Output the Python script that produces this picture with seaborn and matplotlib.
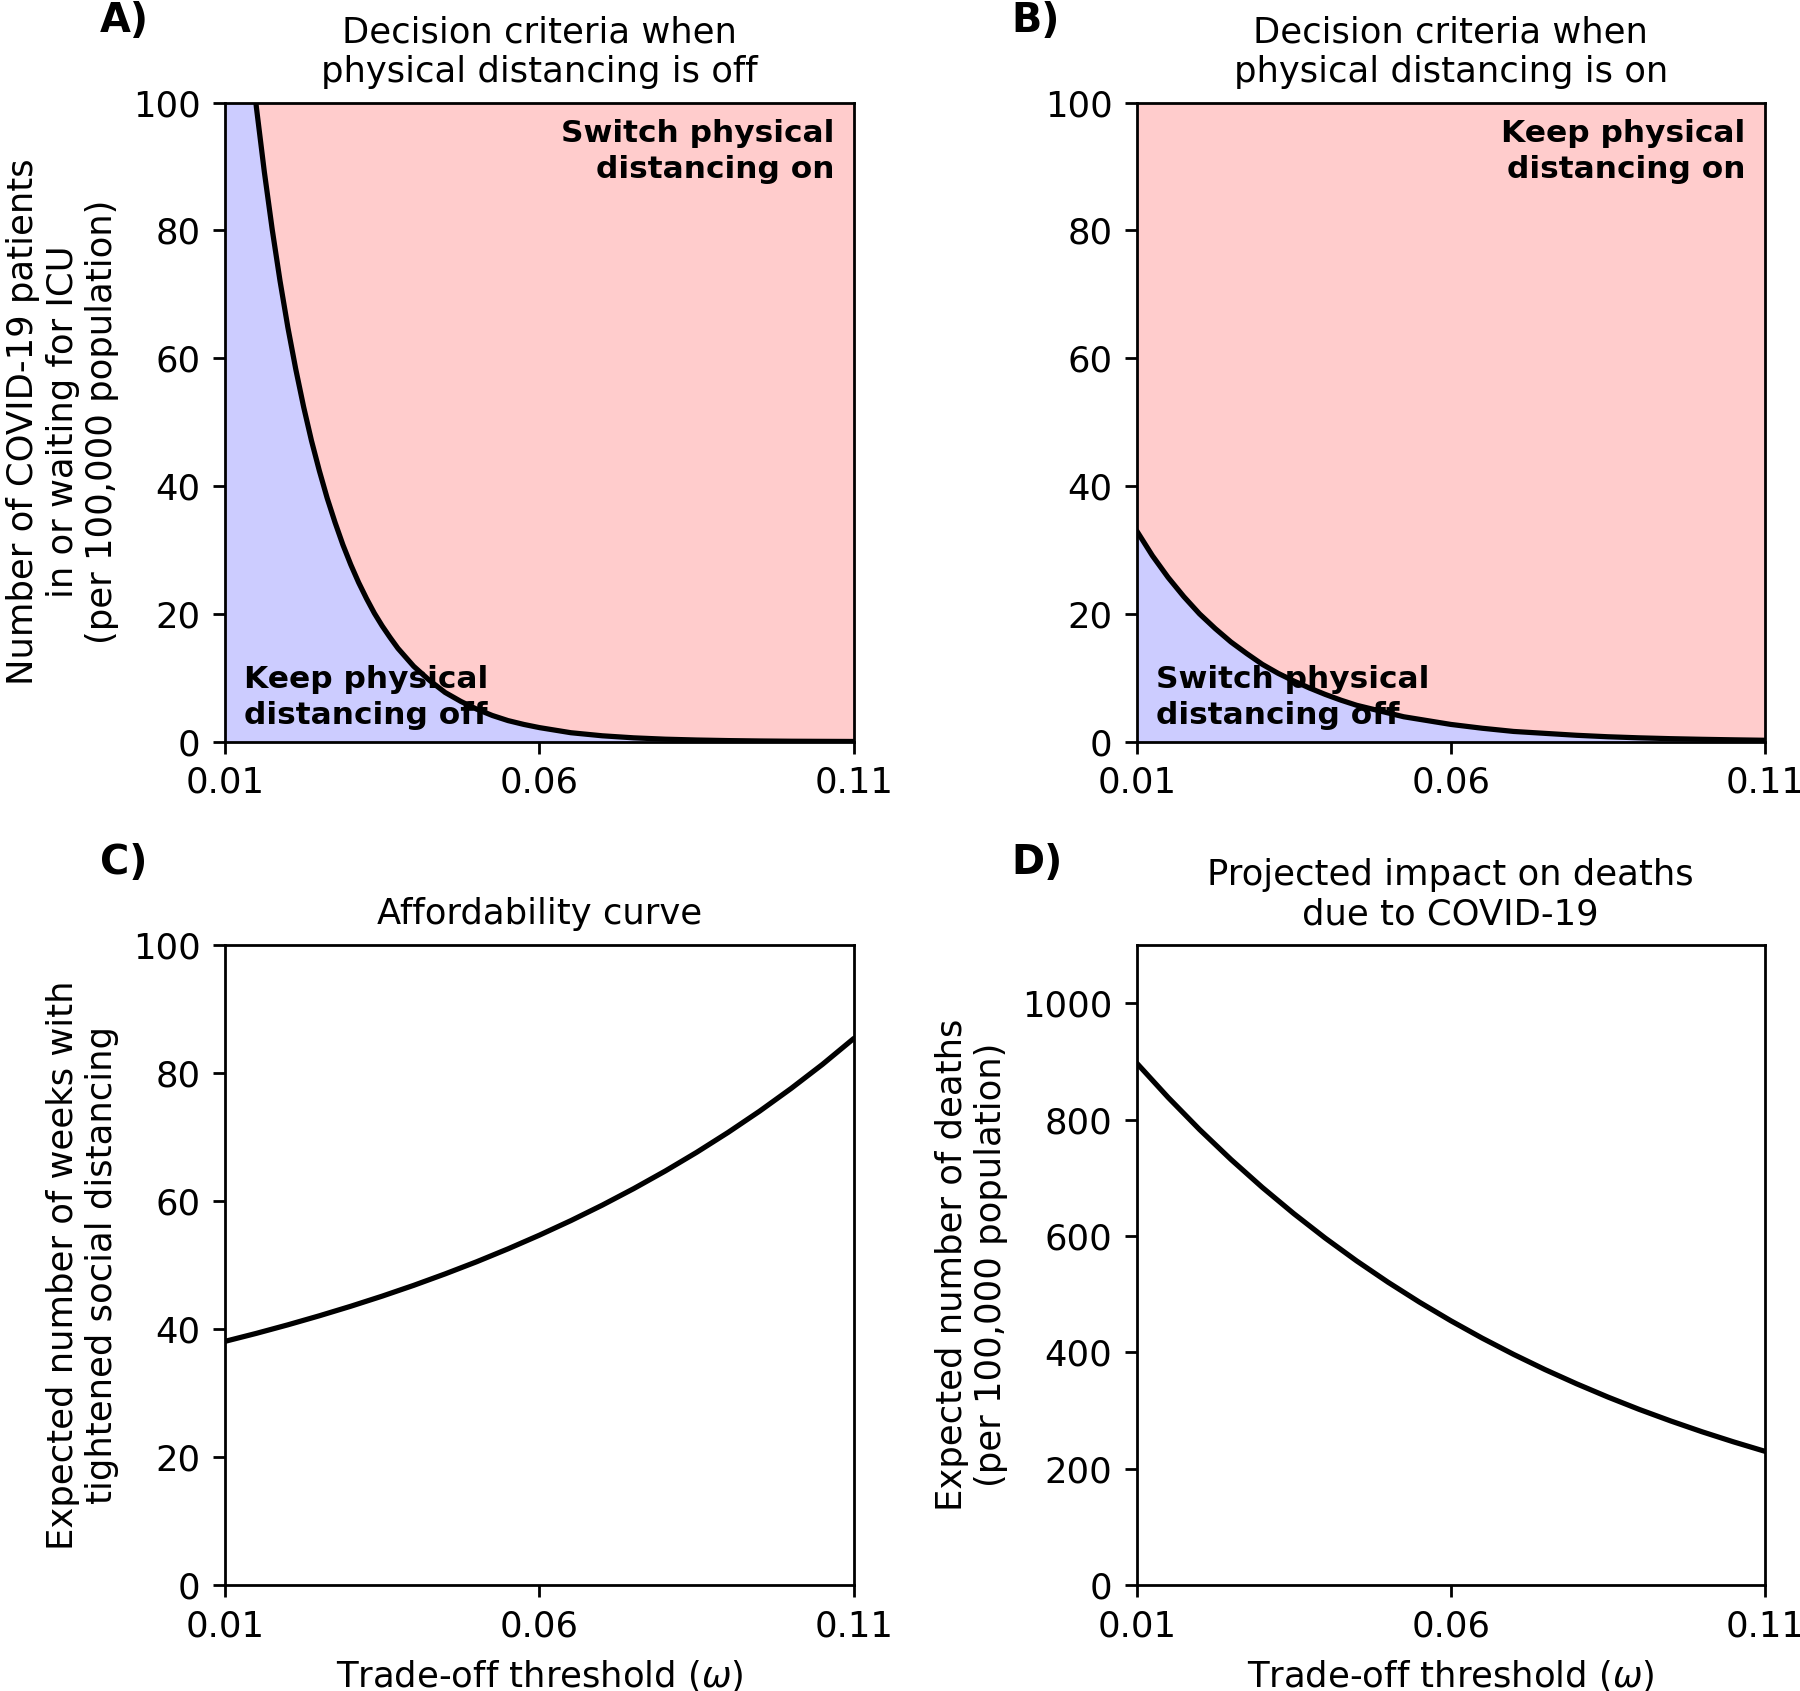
import matplotlib
matplotlib.use("Agg")
import matplotlib.pyplot as plt
import seaborn as sns

# panel A: threshold when physical distancing is off
omega_off = [0.010, 0.01125, 0.0125, 0.01375, 0.015, 0.01625, 0.0175, 0.01875,
             0.020, 0.02125, 0.0225, 0.02375, 0.025, 0.02625, 0.0275, 0.02875,
             0.030, 0.03125, 0.0325, 0.03375, 0.035, 0.03625, 0.0375, 0.03875,
             0.040, 0.0425, 0.045, 0.0475, 0.050, 0.0525, 0.055, 0.0575,
             0.060, 0.065, 0.070, 0.075, 0.080, 0.085, 0.090, 0.095,
             0.100, 0.105, 0.110]
threshold_off = [151.7, 136.4, 122.6, 110.3, 99.2, 89.2, 80.2, 72.1,
                 64.8, 58.3, 52.4, 47.1, 42.4, 38.1, 34.3, 30.8,
                 27.7, 24.9, 22.4, 20.1, 18.1, 16.3, 14.6, 13.2,
                 11.8, 9.6, 7.7, 6.3, 5.1, 4.1, 3.3, 2.7,
                 2.2, 1.4, 0.92, 0.60, 0.39, 0.26, 0.17, 0.11,
                 0.07, 0.05, 0.03]

# panel B: threshold when physical distancing is on
omega_on = [0.010, 0.0125, 0.015, 0.0175, 0.020, 0.0225, 0.025, 0.0275,
            0.030, 0.0325, 0.035, 0.0375, 0.040, 0.0425, 0.045, 0.0475,
            0.050, 0.0525, 0.055, 0.0575, 0.060, 0.065, 0.070, 0.075,
            0.080, 0.085, 0.090, 0.095, 0.100, 0.105, 0.110]
threshold_on = [33.0, 29.1, 25.7, 22.7, 20.0, 17.7, 15.6, 13.8,
                12.1, 10.7, 9.5, 8.4, 7.4, 6.5, 5.7, 5.1,
                4.5, 3.9, 3.5, 3.1, 2.7, 2.1, 1.6, 1.3,
                1.0, 0.77, 0.60, 0.47, 0.37, 0.29, 0.22]

# panels C and D
omega_outcome = [0.010, 0.015, 0.020, 0.025, 0.030, 0.035, 0.040, 0.045,
                 0.050, 0.055, 0.060, 0.065, 0.070, 0.075, 0.080, 0.085,
                 0.090, 0.095, 0.100, 0.105, 0.110]
weeks_distancing = [38.1, 39.35, 40.68, 42.09, 43.58, 45.16, 46.84, 48.63,
                    50.52, 52.54, 54.68, 56.95, 59.37, 61.95, 64.69, 67.61,
                    70.72, 74.03, 77.57, 81.34, 85.4]
deaths = [897, 838.0, 782.9, 731.5, 683.4, 638.5, 596.5, 557.3,
          520.7, 486.5, 454.5, 424.6, 396.7, 370.6, 346.3, 323.5,
          302.2, 282.4, 263.8, 246.5, 230.3]

x_ticks = [0.01, 0.06, 0.11]
x_tick_labels = ["0.01", "0.06", "0.11"]

BLUE = "#CCCCFF"
RED = "#FFCCCC"

sns.set_style("ticks", rc={
    "axes.edgecolor": "black",
    "axes.labelcolor": "black",
    "text.color": "black",
    "xtick.color": "black",
    "ytick.color": "black",
    "axes.linewidth": 0.8,
})
plt.rcParams["font.family"] = ["DejaVu Sans"]
plt.rcParams["font.size"] = 10.2
plt.rcParams["axes.titlesize"] = 10.2
plt.rcParams["axes.labelsize"] = 10.2
plt.rcParams["xtick.labelsize"] = 10.2
plt.rcParams["ytick.labelsize"] = 10.2

fig = plt.figure(figsize=(7.2, 6.764), dpi=250)

ax_a = fig.add_axes([0.125, 0.5614, 0.3494, 0.3779])
ax_b = fig.add_axes([0.6315, 0.5614, 0.3490, 0.3779])
ax_c = fig.add_axes([0.125, 0.06245, 0.3494, 0.3788])
ax_d = fig.add_axes([0.6315, 0.06245, 0.3490, 0.3788])


def decision_panel(ax, omega, thresholds, title, upper_text, lower_text):
    """Shade the two decision regions and draw the threshold curve."""
    ax.fill_between(omega, 0, thresholds, color=BLUE, lw=0)
    ax.fill_between(omega, thresholds, 100, color=RED, lw=0)
    sns.lineplot(x=omega, y=thresholds, ax=ax, color="black", lw=1.5)
    ax.set_ylim(0, 100)
    ax.set_yticks([0, 20, 40, 60, 80, 100])
    ax.set_title(title)
    ax.text(0.969, 0.974, upper_text, transform=ax.transAxes, ha="right",
            va="top", fontsize=9.0, fontweight="bold", linespacing=1.3)
    ax.text(0.031, 0.018, lower_text, transform=ax.transAxes, ha="left",
            va="bottom", fontsize=9.0, fontweight="bold", linespacing=1.3)


decision_panel(ax_a, omega_off, threshold_off,
               "Decision criteria when\nphysical distancing is off",
               "Switch physical\ndistancing on",
               "Keep physical\ndistancing off")
ax_a.set_ylabel("Number of COVID-19 patients\nin or waiting for ICU\n(per 100,000 population)")

decision_panel(ax_b, omega_on, threshold_on,
               "Decision criteria when\nphysical distancing is on",
               "Keep physical\ndistancing on",
               "Switch physical\ndistancing off")

sns.lineplot(x=omega_outcome, y=weeks_distancing, ax=ax_c, color="black", lw=1.5)
ax_c.set_ylim(0, 100)
ax_c.set_yticks([0, 20, 40, 60, 80, 100])
ax_c.set_title("Affordability curve")
ax_c.set_ylabel("Expected number of weeks with\ntightened social distancing")
ax_c.set_xlabel(r"Trade-off threshold ($\omega$)")

sns.lineplot(x=omega_outcome, y=deaths, ax=ax_d, color="black", lw=1.5)
ax_d.set_ylim(0, 1100)
ax_d.set_yticks([0, 200, 400, 600, 800, 1000])
ax_d.set_title("Projected impact on deaths\ndue to COVID-19")
ax_d.set_ylabel("Expected number of deaths\n(per 100,000 population)")
ax_d.set_xlabel(r"Trade-off threshold ($\omega$)")

for ax, label in zip([ax_a, ax_b, ax_c, ax_d], ["A)", "B)", "C)", "D)"]):
    ax.set_xlim(0.01, 0.11)
    ax.set_xticks(x_ticks)
    ax.set_xticklabels(x_tick_labels)
    for side in ["top", "right", "left", "bottom"]:
        ax.spines[side].set_visible(True)
    ax.text(-0.199, 1.128, label, transform=ax.transAxes, ha="left",
            va="center", fontsize=11.5, fontweight="bold")

fig.savefig("out.png", dpi=250)
